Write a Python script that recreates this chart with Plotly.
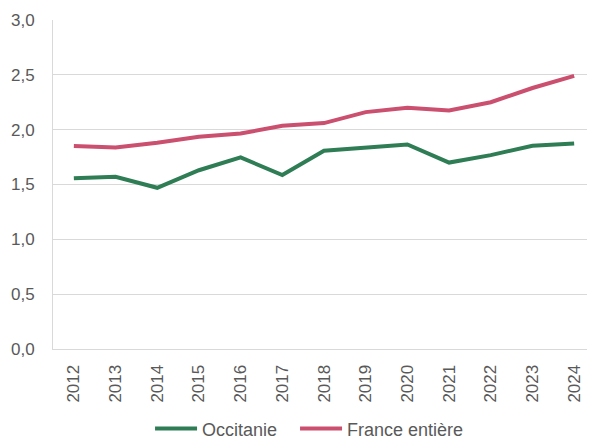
import plotly.graph_objects as go

years = ["2012", "2013", "2014", "2015", "2016", "2017", "2018", "2019", "2020", "2021", "2022", "2023", "2024"]
occitanie = [1.556, 1.571, 1.47, 1.63, 1.747, 1.586, 1.807, 1.84, 1.865, 1.70, 1.768, 1.853, 1.875]
france = [1.85, 1.838, 1.88, 1.935, 1.965, 2.035, 2.06, 2.16, 2.2, 2.175, 2.25, 2.38, 2.49]

fig = go.Figure()
fig.add_trace(go.Scatter(x=years, y=occitanie, mode="lines", name="Occitanie",
                         line=dict(color="#2E7D55", width=4), legend="legend"))
fig.add_trace(go.Scatter(x=years, y=france, mode="lines", name="France entière",
                         line=dict(color="#CB4F6F", width=4), legend="legend2"))

legend_common = dict(orientation="h", xanchor="left", xref="container",
                     y=0.028, yanchor="middle", yref="container",
                     font=dict(size=18, color="#595959"), itemwidth=42,
                     bgcolor="rgba(0,0,0,0)")

fig.update_layout(
    width=587, height=433,
    margin=dict(l=45, r=0, t=11.5, b=91.5, autoexpand=False),
    paper_bgcolor="white", plot_bgcolor="white",
    separators=", ",
    font=dict(family="Liberation Sans, Arial, sans-serif", size=17, color="#595959"),
    showlegend=True,
    legend=dict(x=0.242, **legend_common),
    legend2=dict(x=0.489, **legend_common),
    xaxis=dict(type="category", range=[-0.5, 12.5], tickangle=-90, showgrid=False,
               showline=True, automargin=False,
               linecolor="#d9d9d9", linewidth=1, ticks="outside", ticklen=8,
               tickcolor="rgba(0,0,0,0)", tickfont=dict(size=17, color="#595959")),
    yaxis=dict(range=[0, 3], dtick=0.5, tickformat=".1f", showgrid=True, automargin=False,
               gridcolor="#d9d9d9", gridwidth=1, showline=True, linecolor="#d9d9d9",
               zeroline=False, ticks="outside", ticklen=14, tickcolor="rgba(0,0,0,0)",
               tickfont=dict(size=17, color="#595959")),
)

fig.write_html("out.html")
